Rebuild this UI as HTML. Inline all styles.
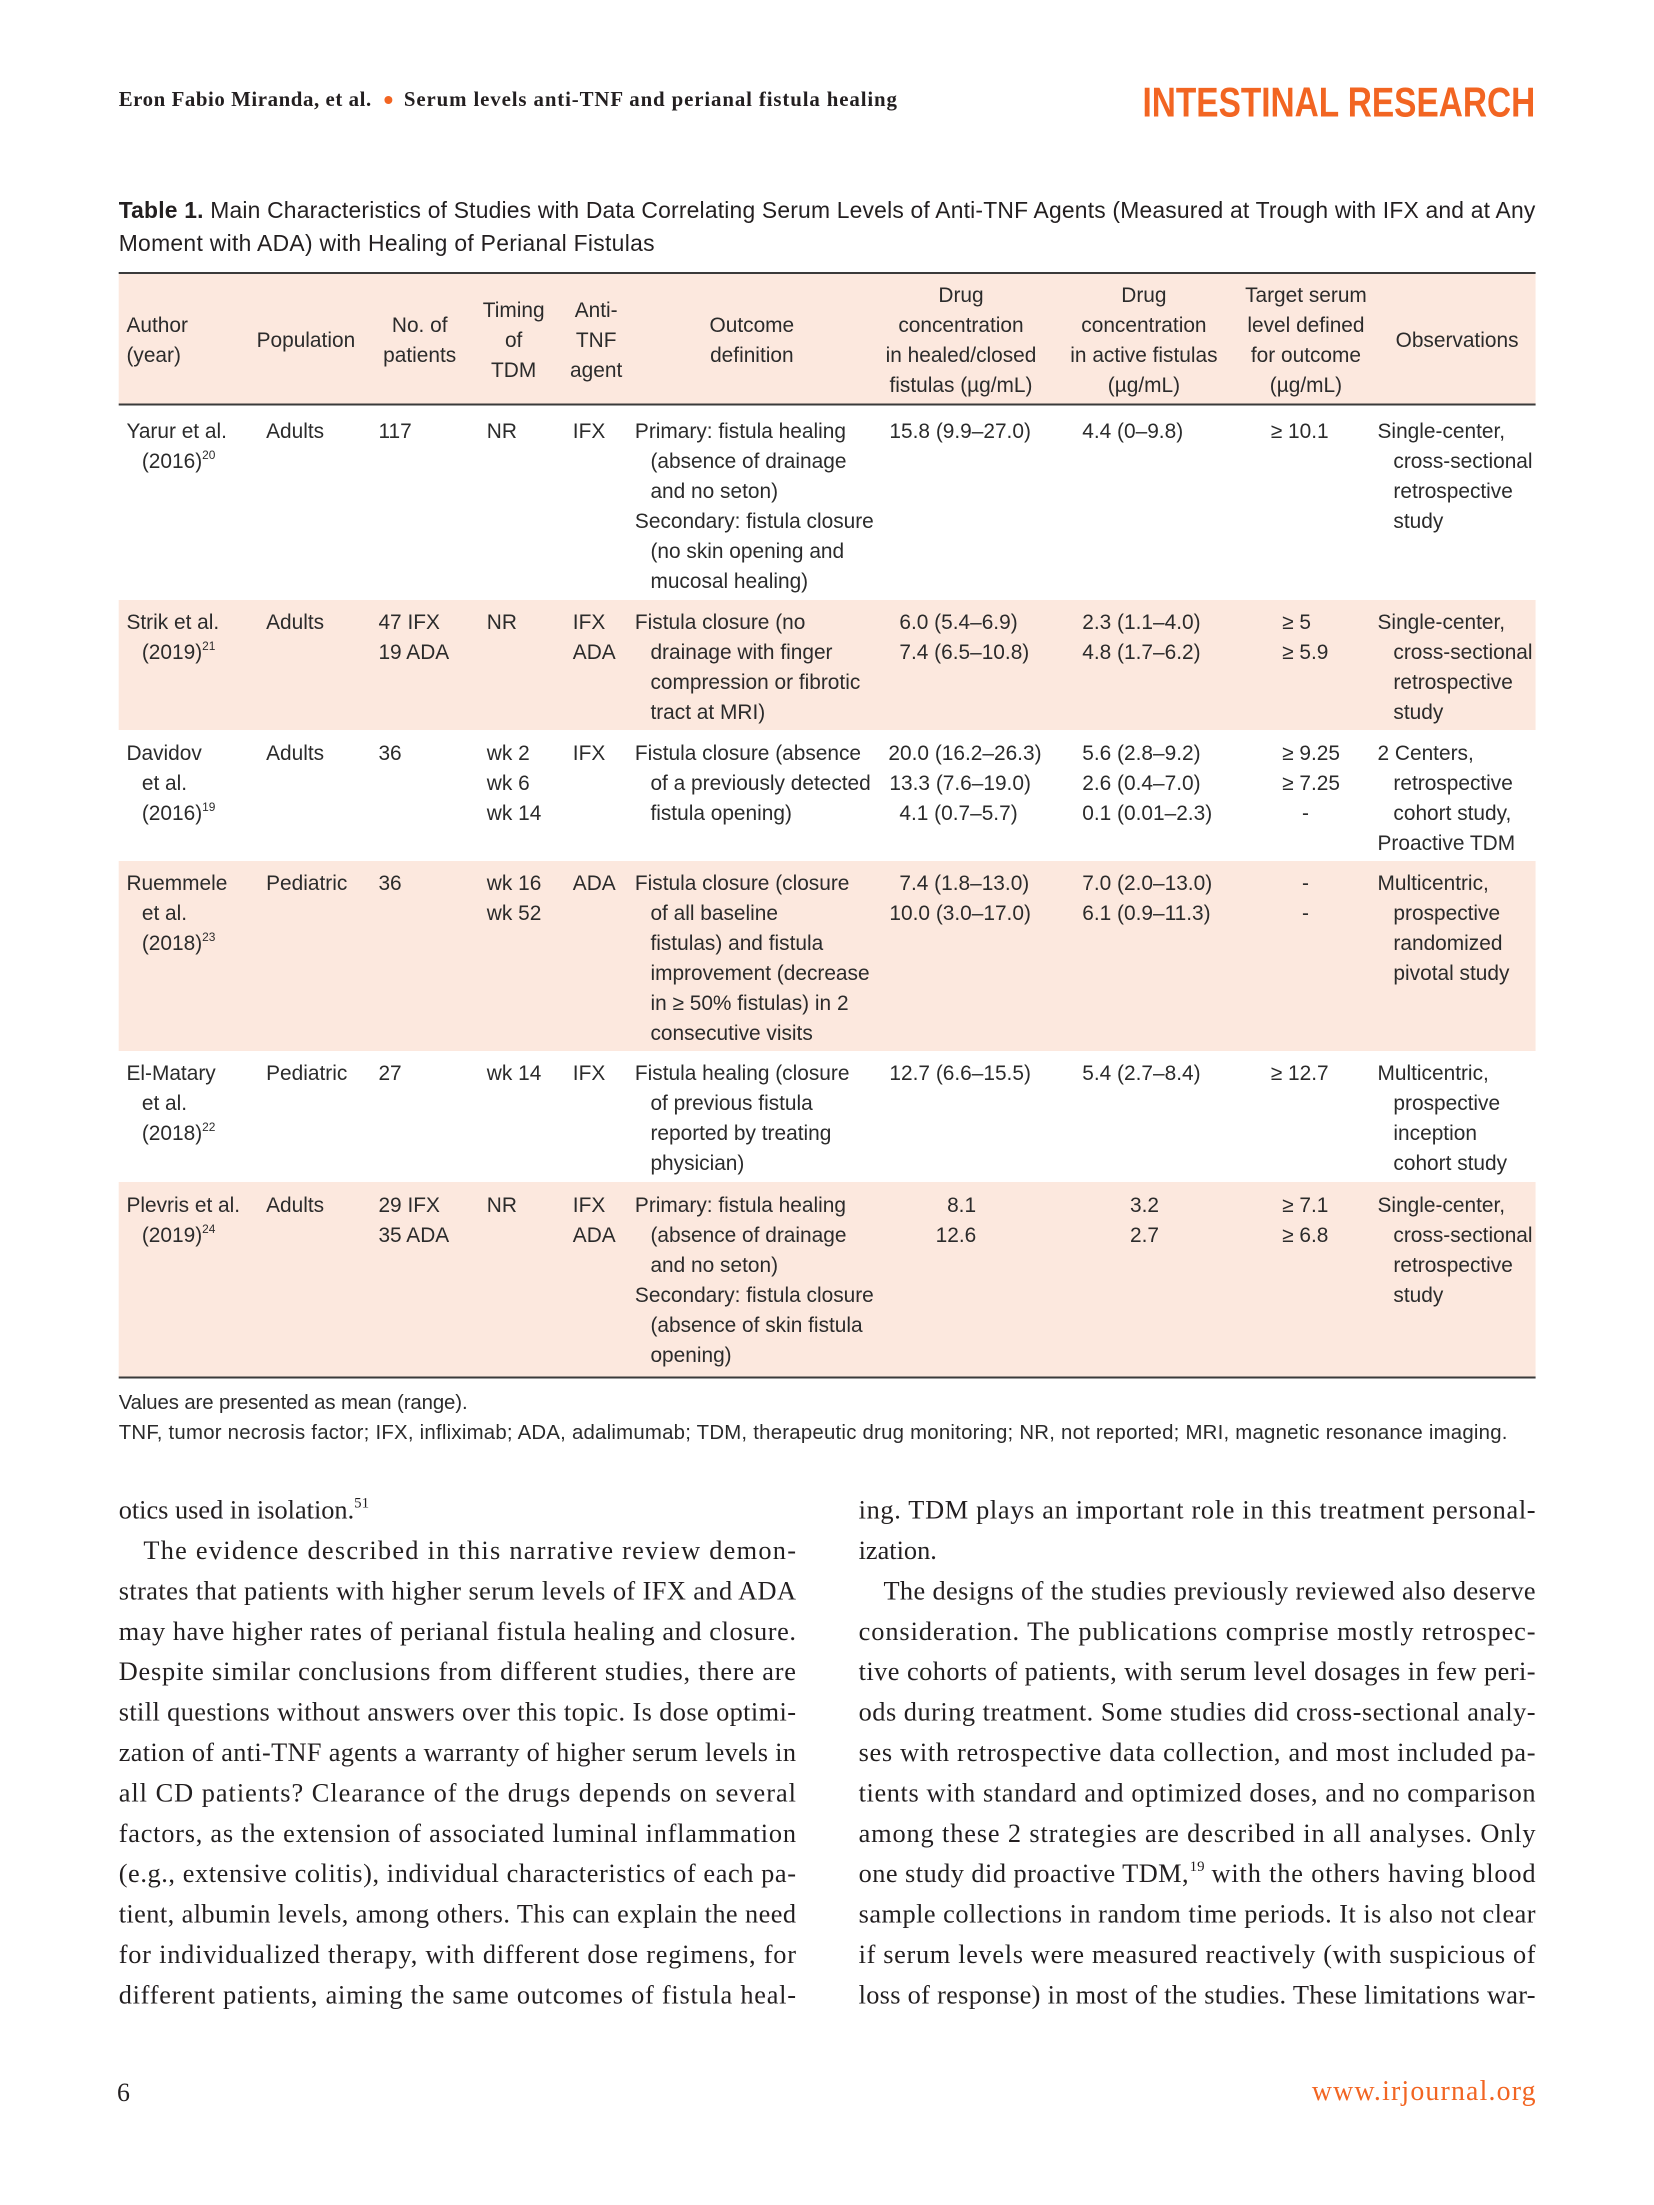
<!DOCTYPE html>
<html>
<head>
<meta charset="utf-8">
<style>
html,body{margin:0;padding:0;background:#fff;}
svg{display:block;}
.t{font-family:"Liberation Sans",sans-serif;font-size:21px;fill:#2b2b2b;}
.hc{font-family:"Liberation Sans",sans-serif;font-size:21px;fill:#2b2b2b;text-anchor:middle;}
.b{font-family:"Liberation Serif",serif;font-size:26.5px;fill:#231f20;}
.cap{font-family:"Liberation Sans",sans-serif;font-size:23px;fill:#231f20;}
.fn{font-family:"Liberation Sans",sans-serif;font-size:20.5px;fill:#2b2b2b;}
</style>
</head>
<body>
<svg width="1654" height="2205" viewBox="0 0 1654 2205" xmlns="http://www.w3.org/2000/svg">
<rect x="0" y="0" width="1654" height="2205" fill="#ffffff"/>
<g transform="translate(118.7 0) scale(0.9941 1) translate(-118.7 0)">

<!-- Running header -->
<text x="118.7" y="106" font-family="Liberation Serif, serif" font-weight="bold" font-size="21" fill="#231f20" textLength="254" lengthAdjust="spacing">Eron Fabio Miranda, et al.</text>
<circle cx="390" cy="100" r="4" fill="#f26522"/>
<text x="405.6" y="106" font-family="Liberation Serif, serif" font-weight="bold" font-size="21" fill="#231f20" textLength="496" lengthAdjust="spacing">Serum levels anti-TNF and perianal fistula healing</text>
<text x="1148.6" y="116.7" font-family="Liberation Sans, sans-serif" font-weight="bold" font-size="42" fill="#f26522" textLength="395" lengthAdjust="spacingAndGlyphs">INTESTINAL RESEARCH</text>

<!-- Caption -->
<text class="cap" x="118.7" y="218" textLength="1425" lengthAdjust="spacing"><tspan font-weight="bold">Table 1.</tspan> Main Characteristics of Studies with Data Correlating Serum Levels of Anti-TNF Agents (Measured at Trough with IFX and at Any</text>
<text class="cap" x="118.7" y="251" textLength="539" lengthAdjust="spacing">Moment with ADA) with Healing of Perianal Fistulas</text>

<!-- Table backgrounds -->
<rect x="118.7" y="273" width="1425.3" height="131" fill="#fce8de"/>
<rect x="118.7" y="600" width="1425.3" height="130" fill="#fce8de"/>
<rect x="118.7" y="861" width="1425.3" height="190" fill="#fce8de"/>
<rect x="118.7" y="1182" width="1425.3" height="195" fill="#fce8de"/>
<!-- Rules -->
<rect x="118.7" y="272" width="1425.3" height="2" fill="#3a3a3a"/>
<rect x="118.7" y="403.5" width="1425.3" height="2" fill="#3a3a3a"/>
<rect x="118.7" y="1376.5" width="1425.3" height="2" fill="#3a3a3a"/>

<!-- Header -->
<text class="t" x="126.5" y="332">Author</text>
<text class="t" x="126.5" y="362">(year)</text>
<text class="hc" x="307" y="347">Population</text>
<text class="hc" x="421.5" y="332">No. of</text>
<text class="hc" x="421.5" y="362">patients</text>
<text class="hc" x="516" y="317">Timing</text>
<text class="hc" x="516" y="347">of</text>
<text class="hc" x="516" y="377">TDM</text>
<text class="hc" x="599" y="317">Anti-</text>
<text class="hc" x="599" y="347">TNF</text>
<text class="hc" x="599" y="377">agent</text>
<text class="hc" x="755.6" y="332">Outcome</text>
<text class="hc" x="755.6" y="362">definition</text>
<text class="hc" x="966" y="302">Drug</text>
<text class="hc" x="966" y="332">concentration</text>
<text class="hc" x="966" y="362">in healed/closed</text>
<text class="hc" x="966" y="392">fistulas (µg/mL)</text>
<text class="hc" x="1150" y="302">Drug</text>
<text class="hc" x="1150" y="332">concentration</text>
<text class="hc" x="1150" y="362">in active fistulas</text>
<text class="hc" x="1150" y="392">(µg/mL)</text>
<text class="hc" x="1313" y="302">Target serum</text>
<text class="hc" x="1313" y="332">level defined</text>
<text class="hc" x="1313" y="362">for outcome</text>
<text class="hc" x="1313" y="392">(µg/mL)</text>
<text class="hc" x="1465" y="347">Observations</text>

<!-- Row 1: Yarur -->
<text class="t" x="126.5" y="438">Yarur et al.</text>
<text class="t" x="142" y="468">(2016)<tspan style="font-size:12px" dy="-9">20</tspan></text>
<text class="t" x="267" y="438">Adults</text>
<text class="t" x="380" y="438">117</text>
<text class="t" x="489" y="438">NR</text>
<text class="t" x="575.5" y="438">IFX</text>
<text class="t" x="638" y="438">Primary: fistula healing</text>
<text class="t" x="653.6" y="468">(absence of drainage</text>
<text class="t" x="653.6" y="498">and no seton)</text>
<text class="t" x="638" y="528">Secondary: fistula closure</text>
<text class="t" x="653.6" y="558">(no skin opening and</text>
<text class="t" x="653.6" y="588">mucosal healing)</text>
<text class="t" x="894" y="438">15.8 (9.9–27.0)</text>
<text class="t" x="1088" y="438">4.4 (0–9.8)</text>
<text class="t" x="1277.6" y="438">≥ 10.1</text>
<text class="t" x="1385" y="438">Single-center,</text>
<text class="t" x="1401" y="468">cross-sectional</text>
<text class="t" x="1401" y="498">retrospective</text>
<text class="t" x="1401" y="528">study</text>

<!-- Row 2: Strik -->
<text class="t" x="126.5" y="629">Strik et al.</text>
<text class="t" x="142" y="659">(2019)<tspan style="font-size:12px" dy="-9">21</tspan></text>
<text class="t" x="267" y="629">Adults</text>
<text class="t" x="380" y="629">47 IFX</text>
<text class="t" x="380" y="659">19 ADA</text>
<text class="t" x="489" y="629">NR</text>
<text class="t" x="575.5" y="629">IFX</text>
<text class="t" x="575.5" y="659">ADA</text>
<text class="t" x="638" y="629">Fistula closure (no</text>
<text class="t" x="653.6" y="659">drainage with finger</text>
<text class="t" x="653.6" y="689">compression or fibrotic</text>
<text class="t" x="653.6" y="719">tract at MRI)</text>
<text class="t" x="904" y="629">6.0 (5.4–6.9)</text>
<text class="t" x="904" y="659">7.4 (6.5–10.8)</text>
<text class="t" x="1088" y="629">2.3 (1.1–4.0)</text>
<text class="t" x="1088" y="659">4.8 (1.7–6.2)</text>
<text class="t" x="1289" y="629">≥ 5</text>
<text class="t" x="1289" y="659">≥ 5.9</text>
<text class="t" x="1385" y="629">Single-center,</text>
<text class="t" x="1401" y="659">cross-sectional</text>
<text class="t" x="1401" y="689">retrospective</text>
<text class="t" x="1401" y="719">study</text>

<!-- Row 3: Davidov -->
<text class="t" x="126.5" y="760">Davidov</text>
<text class="t" x="142" y="790">et al.</text>
<text class="t" x="142" y="820">(2016)<tspan style="font-size:12px" dy="-9">19</tspan></text>
<text class="t" x="267" y="760">Adults</text>
<text class="t" x="380" y="760">36</text>
<text class="t" x="489" y="760">wk 2</text>
<text class="t" x="489" y="790">wk 6</text>
<text class="t" x="489" y="820">wk 14</text>
<text class="t" x="575.5" y="760">IFX</text>
<text class="t" x="638" y="760">Fistula closure (absence</text>
<text class="t" x="653.6" y="790">of a previously detected</text>
<text class="t" x="653.6" y="820">fistula opening)</text>
<text class="t" x="893" y="760">20.0 (16.2–26.3)</text>
<text class="t" x="894" y="790">13.3 (7.6–19.0)</text>
<text class="t" x="904" y="820">4.1 (0.7–5.7)</text>
<text class="t" x="1088" y="760">5.6 (2.8–9.2)</text>
<text class="t" x="1088" y="790">2.6 (0.4–7.0)</text>
<text class="t" x="1088" y="820">0.1 (0.01–2.3)</text>
<text class="t" x="1289" y="760">≥ 9.25</text>
<text class="t" x="1289" y="790">≥ 7.25</text>
<text class="t" x="1309" y="820">-</text>
<text class="t" x="1385" y="760">2 Centers,</text>
<text class="t" x="1401" y="790">retrospective</text>
<text class="t" x="1401" y="820">cohort study,</text>
<text class="t" x="1385" y="850">Proactive TDM</text>

<!-- Row 4: Ruemmele -->
<text class="t" x="126.5" y="890">Ruemmele</text>
<text class="t" x="142" y="920">et al.</text>
<text class="t" x="142" y="950">(2018)<tspan style="font-size:12px" dy="-9">23</tspan></text>
<text class="t" x="267" y="890">Pediatric</text>
<text class="t" x="380" y="890">36</text>
<text class="t" x="489" y="890">wk 16</text>
<text class="t" x="489" y="920">wk 52</text>
<text class="t" x="575.5" y="890">ADA</text>
<text class="t" x="638" y="890">Fistula closure (closure</text>
<text class="t" x="653.6" y="920">of all baseline</text>
<text class="t" x="653.6" y="950">fistulas) and fistula</text>
<text class="t" x="653.6" y="980">improvement (decrease</text>
<text class="t" x="653.6" y="1010">in ≥ 50% fistulas) in 2</text>
<text class="t" x="653.6" y="1040">consecutive visits</text>
<text class="t" x="904" y="890">7.4 (1.8–13.0)</text>
<text class="t" x="894" y="920">10.0 (3.0–17.0)</text>
<text class="t" x="1088" y="890">7.0 (2.0–13.0)</text>
<text class="t" x="1088" y="920">6.1 (0.9–11.3)</text>
<text class="t" x="1309" y="890">-</text>
<text class="t" x="1309" y="920">-</text>
<text class="t" x="1385" y="890">Multicentric,</text>
<text class="t" x="1401" y="920">prospective</text>
<text class="t" x="1401" y="950">randomized</text>
<text class="t" x="1401" y="980">pivotal study</text>

<!-- Row 5: El-Matary -->
<text class="t" x="126.5" y="1080">El-Matary</text>
<text class="t" x="142" y="1110">et al.</text>
<text class="t" x="142" y="1140">(2018)<tspan style="font-size:12px" dy="-9">22</tspan></text>
<text class="t" x="267" y="1080">Pediatric</text>
<text class="t" x="380" y="1080">27</text>
<text class="t" x="489" y="1080">wk 14</text>
<text class="t" x="575.5" y="1080">IFX</text>
<text class="t" x="638" y="1080">Fistula healing (closure</text>
<text class="t" x="653.6" y="1110">of previous fistula</text>
<text class="t" x="653.6" y="1140">reported by treating</text>
<text class="t" x="653.6" y="1170">physician)</text>
<text class="t" x="894" y="1080">12.7 (6.6–15.5)</text>
<text class="t" x="1088" y="1080">5.4 (2.7–8.4)</text>
<text class="t" x="1277.6" y="1080">≥ 12.7</text>
<text class="t" x="1385" y="1080">Multicentric,</text>
<text class="t" x="1401" y="1110">prospective</text>
<text class="t" x="1401" y="1140">inception</text>
<text class="t" x="1401" y="1170">cohort study</text>

<!-- Row 6: Plevris -->
<text class="t" x="126.5" y="1212">Plevris et al.</text>
<text class="t" x="142" y="1242">(2019)<tspan style="font-size:12px" dy="-9">24</tspan></text>
<text class="t" x="267" y="1212">Adults</text>
<text class="t" x="380" y="1212">29 IFX</text>
<text class="t" x="380" y="1242">35 ADA</text>
<text class="t" x="489" y="1212">NR</text>
<text class="t" x="575.5" y="1212">IFX</text>
<text class="t" x="575.5" y="1242">ADA</text>
<text class="t" x="638" y="1212">Primary: fistula healing</text>
<text class="t" x="653.6" y="1242">(absence of drainage</text>
<text class="t" x="653.6" y="1272">and no seton)</text>
<text class="t" x="638" y="1302">Secondary: fistula closure</text>
<text class="t" x="653.6" y="1332">(absence of skin fistula</text>
<text class="t" x="653.6" y="1362">opening)</text>
<text class="t" x="952" y="1212">8.1</text>
<text class="t" x="940.5" y="1242">12.6</text>
<text class="t" x="1136" y="1212">3.2</text>
<text class="t" x="1136" y="1242">2.7</text>
<text class="t" x="1289" y="1212">≥ 7.1</text>
<text class="t" x="1289" y="1242">≥ 6.8</text>
<text class="t" x="1385" y="1212">Single-center,</text>
<text class="t" x="1401" y="1242">cross-sectional</text>
<text class="t" x="1401" y="1272">retrospective</text>
<text class="t" x="1401" y="1302">study</text>

<!-- Footnotes -->
<text class="fn" x="118.7" y="1409" textLength="351" lengthAdjust="spacing">Values are presented as mean (range).</text>
<text class="fn" x="118.7" y="1439" textLength="1397" lengthAdjust="spacing">TNF, tumor necrosis factor; IFX, infliximab; ADA, adalimumab; TDM, therapeutic drug monitoring; NR, not reported; MRI, magnetic resonance imaging.</text>

<!-- Body text left column -->
<text class="b" x="118.7" y="1518.6">otics used in isolation.<tspan style="font-size:15px" dy="-11">51</tspan></text>
<text class="b" x="143.5" y="1559" textLength="656.5" lengthAdjust="spacing">The evidence described in this narrative review demon-</text>
<text class="b" x="118.7" y="1599.4" textLength="681.3" lengthAdjust="spacing">strates that patients with higher serum levels of IFX and ADA</text>
<text class="b" x="118.7" y="1639.8" textLength="681.3" lengthAdjust="spacing">may have higher rates of perianal fistula healing and closure.</text>
<text class="b" x="118.7" y="1680.2" textLength="681.3" lengthAdjust="spacing">Despite similar conclusions from different studies, there are</text>
<text class="b" x="118.7" y="1720.6" textLength="681.3" lengthAdjust="spacing">still questions without answers over this topic. Is dose optimi-</text>
<text class="b" x="118.7" y="1761" textLength="681.3" lengthAdjust="spacing">zation of anti-TNF agents a warranty of higher serum levels in</text>
<text class="b" x="118.7" y="1801.4" textLength="681.3" lengthAdjust="spacing">all CD patients? Clearance of the drugs depends on several</text>
<text class="b" x="118.7" y="1841.8" textLength="681.3" lengthAdjust="spacing">factors, as the extension of associated luminal inflammation</text>
<text class="b" x="118.7" y="1882.2" textLength="681.3" lengthAdjust="spacing">(e.g., extensive colitis), individual characteristics of each pa-</text>
<text class="b" x="118.7" y="1922.6" textLength="681.3" lengthAdjust="spacing">tient, albumin levels, among others. This can explain the need</text>
<text class="b" x="118.7" y="1963" textLength="681.3" lengthAdjust="spacing">for individualized therapy, with different dose regimens, for</text>
<text class="b" x="118.7" y="2003.4" textLength="681.3" lengthAdjust="spacing">different patients, aiming the same outcomes of fistula heal-</text>

<!-- Body text right column -->
<text class="b" x="863" y="1518.6" textLength="681" lengthAdjust="spacing">ing. TDM plays an important role in this treatment personal-</text>
<text class="b" x="863" y="1559">ization.</text>
<text class="b" x="888" y="1599.4" textLength="656" lengthAdjust="spacing">The designs of the studies previously reviewed also deserve</text>
<text class="b" x="863" y="1639.8" textLength="681" lengthAdjust="spacing">consideration. The publications comprise mostly retrospec-</text>
<text class="b" x="863" y="1680.2" textLength="681" lengthAdjust="spacing">tive cohorts of patients, with serum level dosages in few peri-</text>
<text class="b" x="863" y="1720.6" textLength="681" lengthAdjust="spacing">ods during treatment. Some studies did cross-sectional analy-</text>
<text class="b" x="863" y="1761" textLength="681" lengthAdjust="spacing">ses with retrospective data collection, and most included pa-</text>
<text class="b" x="863" y="1801.4" textLength="681" lengthAdjust="spacing">tients with standard and optimized doses, and no comparison</text>
<text class="b" x="863" y="1841.8" textLength="681" lengthAdjust="spacing">among these 2 strategies are described in all analyses. Only</text>
<text class="b" x="863" y="1882.2" textLength="332" lengthAdjust="spacing">one study did proactive TDM,</text>
<text class="b" x="1196" y="1871" style="font-size:15px">19</text>
<text class="b" x="1218" y="1882.2" textLength="326" lengthAdjust="spacing">with the others having blood</text>
<text class="b" x="863" y="1922.6" textLength="681" lengthAdjust="spacing">sample collections in random time periods. It is also not clear</text>
<text class="b" x="863" y="1963" textLength="681" lengthAdjust="spacing">if serum levels were measured reactively (with suspicious of</text>
<text class="b" x="863" y="2003.4" textLength="681" lengthAdjust="spacing">loss of response) in most of the studies. These limitations war-</text>

<!-- Footer -->
<text x="117" y="2101" font-family="Liberation Serif, serif" font-size="26" fill="#231f20">6</text>
<text x="1544" y="2100" font-family="Liberation Serif, serif" font-size="28" fill="#f26522" text-anchor="end" textLength="225" lengthAdjust="spacing">www.irjournal.org</text>
</g>
</svg>
</body>
</html>
